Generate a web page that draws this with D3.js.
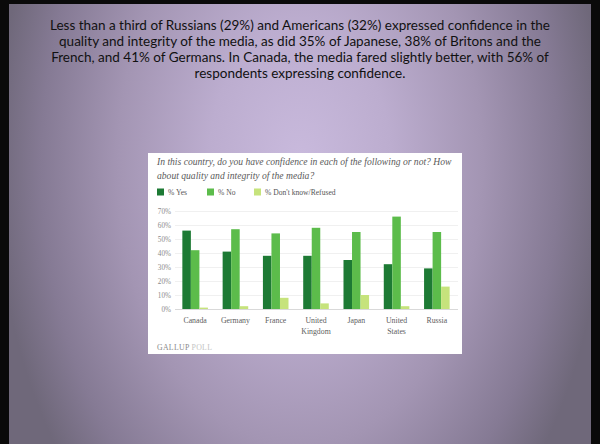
<!DOCTYPE html>
<html>
<head>
<meta charset="utf-8">
<script src="https://cdn.jsdelivr.net/npm/d3@7"></script>
<style>
  html, body { margin: 0; padding: 0; background: #000; }
  svg { display: block; }
</style>
</head>
<body>
<svg id="chart" width="600" height="444"></svg>
<script>
// ---------- data ----------
const captionLines = [
  "Less than a third of Russians (29%) and Americans (32%) expressed confidence in the",
  "quality and integrity of the media, as did 35% of Japanese, 38% of Britons and the",
  "French, and 41% of Germans. In Canada, the media fared slightly better, with 56% of",
  "respondents expressing confidence."
];
const chartTitle = [
  "In this country, do you have confidence in each of the following or not? How",
  "about quality and integrity of the media?"
];
const categories = ["Canada", "Germany", "France", "United Kingdom", "Japan", "United States", "Russia"];
const categoryLabels = [["Canada"], ["Germany"], ["France"], ["United", "Kingdom"], ["Japan"], ["United", "States"], ["Russia"]];
const seriesNames = ["% Yes", "% No", "% Don't know/Refused"];
const yesValues = [56, 41, 38, 38, 35, 32, 29];
const noValues = [42, 57, 54, 58, 55, 66, 55];
const dontKnowValues = [1, 2, 8, 4, 10, 2, 16];
const yTickValues = [0, 10, 20, 30, 40, 50, 60, 70];
const sourceLabel = ["GALLUP", "POLL"];

// ---------- drawing ----------
const svg = d3.select("#chart");
const W = 600, H = 444;
const colors = ["#1d7a34", "#5cbc4b", "#c6e37c"];

const defs = svg.append("defs");
const grad = defs.append("radialGradient").attr("id", "bg")
  .attr("gradientUnits", "userSpaceOnUse")
  .attr("cx", 0).attr("cy", 0).attr("r", 1)
  .attr("gradientTransform", "translate(300,165) scale(305,470)");
grad.append("stop").attr("offset", "0%").attr("stop-color", "#c9badd");
grad.append("stop").attr("offset", "30%").attr("stop-color", "#bcadcf");
grad.append("stop").attr("offset", "60%").attr("stop-color", "#a395b3");
grad.append("stop").attr("offset", "85%").attr("stop-color", "#857a94");
grad.append("stop").attr("offset", "100%").attr("stop-color", "#6f687a");

// black frame + slide
svg.append("rect").attr("width", W).attr("height", H).attr("fill", "#0a0a0a");
svg.append("rect").attr("x", 9).attr("y", 4).attr("width", W - 18).attr("height", H - 4)
  .attr("fill", "url(#bg)");

// caption text
const cap = svg.append("g").attr("font-family", "Lato, 'Open Sans', sans-serif").attr("fill", "#111");
let fs = 13;
const probe = cap.append("text").attr("font-size", fs).text(captionLines[0]);
const w0 = probe.node().getComputedTextLength();
probe.remove();
fs = fs * 500 / w0;
captionLines.forEach((t, i) => {
  cap.append("text")
    .attr("x", 300).attr("y", 25 + i * 16)
    .attr("dy", "0.35em")
    .attr("text-anchor", "middle")
    .attr("font-size", fs.toFixed(2))
    .text(t);
});

// chart "image"
const box = {x: 148, y: 153, w: 314, h: 201};
svg.append("rect").attr("x", box.x).attr("y", box.y).attr("width", box.w).attr("height", box.h)
  .attr("fill", "#ffffff");

const serif = "'Liberation Serif', 'DejaVu Serif', serif";
const g = svg.append("g").attr("font-family", serif);

// title
chartTitle.forEach((t, i) => {
  g.append("text").attr("x", 157).attr("y", 162 + i * 13.5).attr("dy", "0.35em")
    .attr("font-style", "italic").attr("font-size", 9.6).attr("fill", "#5a5a5a").text(t);
});

// legend
const legendX = [157, 207, 254];
seriesNames.forEach((name, i) => {
  g.append("rect").attr("x", legendX[i]).attr("y", 188.5).attr("width", 7).attr("height", 7)
    .attr("fill", colors[i]);
  g.append("text").attr("x", legendX[i] + 11).attr("y", 192).attr("dy", "0.35em")
    .attr("font-size", 7.6).attr("fill", "#555").text(name);
});

// scales
const x0 = d3.scaleBand().domain(categories).range([175, 457]).paddingInner(0.365).paddingOuter(0.1825);
const x1 = d3.scaleBand().domain([0, 1, 2]).range([0, x0.bandwidth()]);
const y = d3.scaleLinear().domain([0, 70]).range([309, 211]);

// y axis + grid
const yAxis = d3.axisLeft(y).tickValues(yTickValues).tickFormat(d => d + "%")
  .tickSize(0).tickPadding(0);
const ya = g.append("g").attr("transform", "translate(171,0)").call(yAxis);
ya.select(".domain").remove();
ya.selectAll("text").attr("font-family", serif).attr("font-size", 7.2).attr("fill", "#8a8a8a");

const grid = d3.axisLeft(y).tickValues(yTickValues).tickSize(-(458 - 175)).tickFormat("");
const gg = g.append("g").attr("transform", "translate(175,0)").call(grid);
gg.select(".domain").remove();
gg.selectAll("line").attr("stroke", d => d === 0 ? "#cfcfcf" : "#ececec").attr("stroke-width", 0.8);

// bars
const seriesValues = [yesValues, noValues, dontKnowValues];
const barsG = g.append("g");
categories.forEach((c, ci) => {
  seriesValues.forEach((vals, si) => {
    barsG.append("rect")
      .attr("x", x0(c) + x1(si))
      .attr("y", y(vals[ci]))
      .attr("width", x1.bandwidth())
      .attr("height", y(0) - y(vals[ci]))
      .attr("fill", colors[si]);
  });
});

// x labels
const xAxis = d3.axisBottom(x0).tickSize(0).tickFormat("");
const xa = g.append("g").attr("transform", "translate(0,309)").call(xAxis);
xa.select(".domain").remove();
categories.forEach((c, ci) => {
  const t = g.append("text").attr("text-anchor", "middle")
    .attr("font-size", 7.8).attr("fill", "#606060");
  categoryLabels[ci].forEach((line, li) => {
    t.append("tspan").attr("x", x0(c) + x0.bandwidth() / 2)
      .attr("y", 320 + li * 11).attr("dy", "0.35em").text(line);
  });
});

// source
const src = g.append("text").attr("x", 157).attr("y", 347).attr("dy", "0.35em").attr("font-size", 7.8);
src.append("tspan").attr("fill", "#8a8a8a").attr("letter-spacing", 0.3).text(sourceLabel[0] + " ");
src.append("tspan").attr("fill", "#c4c4c4").attr("letter-spacing", 0.3).text(sourceLabel[1]);
</script>
</body>
</html>
